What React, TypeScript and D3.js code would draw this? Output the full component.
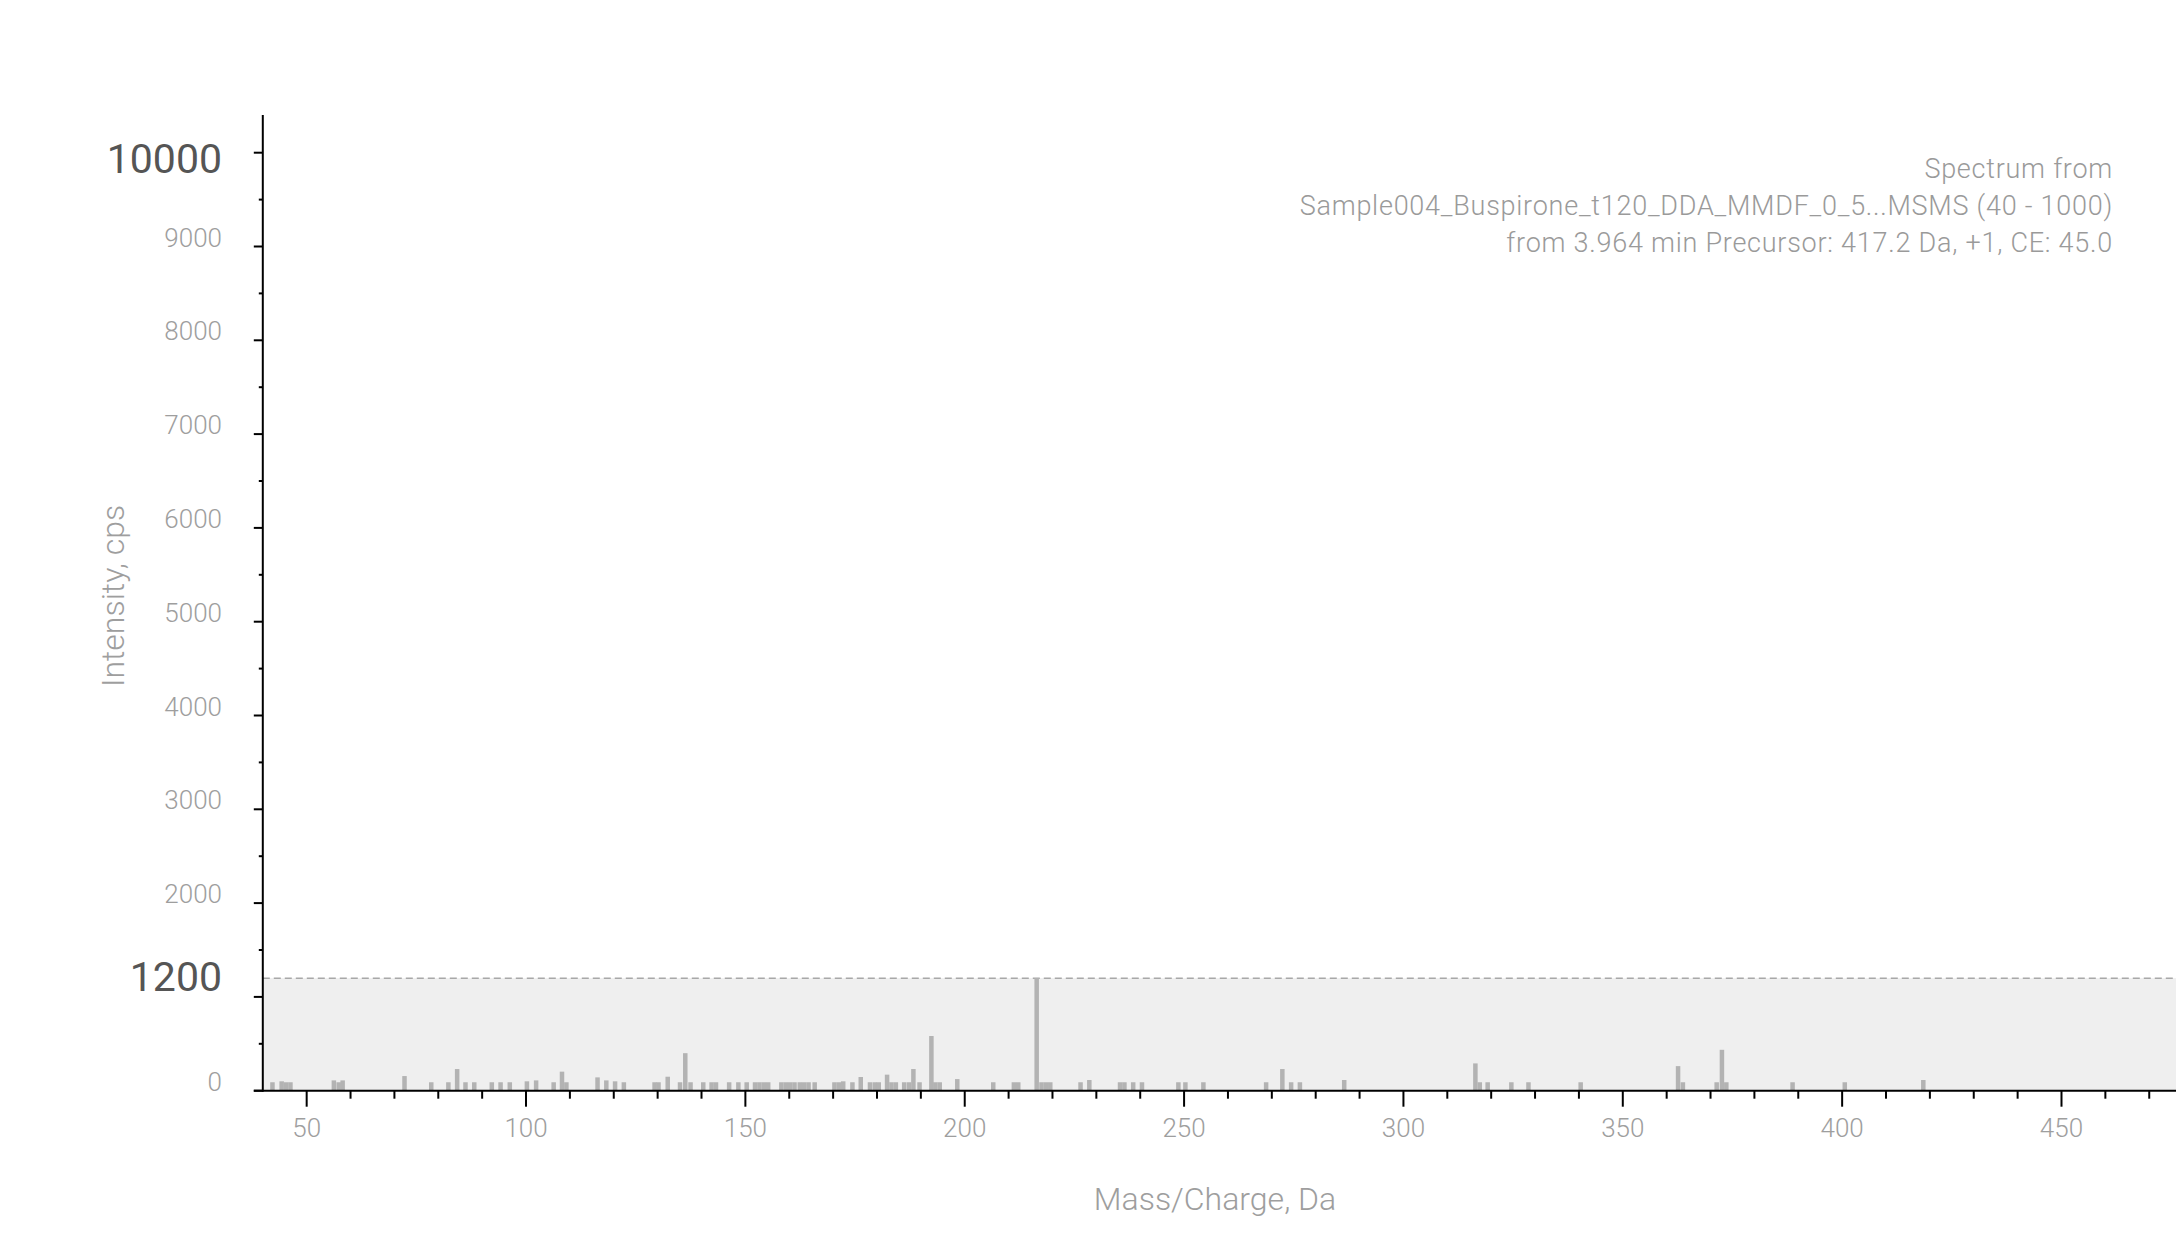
import React from "react";
import * as d3 from "d3";

// ---- data ----
const mzValues = [
  42.2, 44.3, 45.3, 46.3, 56.2, 57.3, 58.2, 72.3, 78.4, 82.3, 84.3, 86.2, 88.2,
  92.2, 94.2, 96.3, 100.2, 102.3, 106.3, 108.2, 109.2, 116.3, 118.3, 120.3,
  122.3, 129.3, 130.2, 132.3, 135.1, 136.3, 137.5, 140.4, 142.3, 143.3, 146.3,
  148.4, 150.3, 152.2, 153.2, 154.2, 155.2, 158.2, 159.2, 160.2, 161.2, 162.4,
  163.4, 164.4, 165.8, 170.3, 171.3, 172.3, 174.4, 176.3, 178.4, 179.5, 180.4,
  182.3, 183.3, 184.3, 186.2, 187.3, 188.3, 189.7, 192.4, 193.3, 194.3, 198.3,
  206.5, 211.2, 212.2, 216.4, 217.5, 218.5, 219.5, 226.4, 228.4, 235.4, 236.4,
  238.4, 240.4, 248.7, 250.3, 254.4, 268.7, 272.4, 274.4, 276.4, 286.5, 316.4,
  317.4, 319.2, 324.6, 328.5, 340.4, 362.6, 363.7, 371.4, 372.6, 373.6, 388.7,
  400.6, 418.5,
];
const intensities = [
  90, 100, 90, 90, 110, 90, 110, 156, 90, 90, 231, 90, 90,
  90, 90, 90, 100, 110, 90, 203, 90, 142, 110, 100,
  90, 90, 90, 149, 90, 400, 90, 90, 90, 90, 90,
  90, 90, 90, 90, 90, 90, 90, 90, 90, 90, 90,
  90, 90, 90, 90, 90, 100, 90, 146, 90, 90, 90,
  171, 90, 90, 90, 90, 231, 90, 583, 90, 90, 124,
  90, 90, 90, 1200, 90, 90, 90, 90, 114, 90, 90,
  90, 90, 90, 90, 90, 90, 231, 90, 90, 114, 291,
  90, 90, 90, 90, 90, 262, 90, 90, 436, 90, 90,
  90, 114,
];
const xTickValues = [50, 100, 150, 200, 250, 300, 350, 400, 450];
const yTickValues = [0, 2000, 3000, 4000, 5000, 6000, 7000, 8000, 9000];
const axisMax = 10000;
const maxIntensity = 1200;
const annotationLines = [
  "Spectrum from",
  "Sample004_Buspirone_t120_DDA_MMDF_0_5...MSMS (40 - 1000)",
  "from 3.964 min Precursor: 417.2 Da, +1, CE: 45.0",
];
const xTitle = "Mass/Charge, Da";
const yTitle = "Intensity, cps";

const FONT = "Roboto, 'Noto Sans', 'DejaVu Sans', sans-serif";

export default function App() {
  const W = 2176;
  const H = 1240;
  const x = d3.scaleLinear().domain([40, 476.1]).range([262.8, 2176]);
  const y = d3.scaleLinear().domain([0, axisMax]).range([1090.7, 152.7]);
  const x0 = x(40);
  const y0 = y(0);
  const yTopPx = 115;

  const xMinor = d3.range(50, 480, 10).filter((v) => v % 50 !== 0);
  const yMinor = d3.range(500, axisMax, 1000);
  const yMajor = d3.range(0, axisMax + 1, 1000);

  const data = mzValues.map((m, i) => ({ mz: m, v: intensities[i] }));
  const barW = 4.5;

  return (
    <svg
      width={W}
      height={H}
      style={{ position: "absolute", left: 0, top: 0, display: "block", background: "#fff" }}
      fontFamily={FONT}
    >
      {/* max-intensity band */}
      <rect x={x0} y={y(maxIntensity)} width={W - x0} height={y0 - y(maxIntensity)} fill="#efefef" />
      <line
        x1={x0}
        x2={W}
        y1={y(maxIntensity)}
        y2={y(maxIntensity)}
        stroke="#a8a8a8"
        strokeWidth={1.5}
        strokeDasharray="7,4"
      />

      {/* bars */}
      {data.map((d, i) => (
        <rect
          key={i}
          x={x(d.mz) - barW / 2}
          y={y(d.v)}
          width={barW}
          height={y0 - y(d.v)}
          fill="#b3b3b3"
        />
      ))}

      {/* y axis */}
      <line x1={x0} x2={x0} y1={yTopPx} y2={y0 + 1} stroke="#000" strokeWidth={2} />
      {yMajor.map((t) => (
        <line key={"ym" + t} x1={x0 - 9} x2={x0} y1={y(t)} y2={y(t)} stroke="#000" strokeWidth={2} />
      ))}
      {yMinor.map((t) => (
        <line key={"yn" + t} x1={x0 - 4} x2={x0} y1={y(t)} y2={y(t)} stroke="#000" strokeWidth={2} />
      ))}
      {yTickValues.map((t) => (
        <text
          key={"yl" + t}
          x={222}
          y={y(t)}
          textAnchor="end"
          fontSize={26}
          fontWeight={300}
          fill="#9e9e9e"
        >
          {t}
        </text>
      ))}
      <text x={222} y={y(axisMax) + 20} textAnchor="end" fontSize={41} fontWeight={400} fill="#555">
        {axisMax}
      </text>
      <text x={222} y={y(maxIntensity) + 12.5} textAnchor="end" fontSize={41} fontWeight={400} fill="#555">
        {maxIntensity}
      </text>

      {/* x axis */}
      <line x1={x0 - 9} x2={W} y1={y0} y2={y0} stroke="#000" strokeWidth={2} />
      {xTickValues.map((t) => (
        <line key={"xm" + t} x1={x(t)} x2={x(t)} y1={y0} y2={y0 + 16} stroke="#000" strokeWidth={2} />
      ))}
      {xMinor.map((t) => (
        <line key={"xn" + t} x1={x(t)} x2={x(t)} y1={y0} y2={y0 + 8} stroke="#000" strokeWidth={2} />
      ))}
      {xTickValues.map((t) => (
        <text
          key={"xl" + t}
          x={x(t)}
          y={y0 + 46}
          textAnchor="middle"
          fontSize={26}
          fontWeight={300}
          fill="#9e9e9e"
        >
          {t}
        </text>
      ))}

      {/* axis titles */}
      <text x={1215} y={1210} textAnchor="middle" fontSize={32} fontWeight={300} fill="#9e9e9e">
        {xTitle}
      </text>
      <text
        transform={`translate(124, 596) rotate(-90)`}
        textAnchor="middle"
        fontSize={32}
        fontWeight={300}
        fill="#9e9e9e"
      >
        {yTitle}
      </text>

      {/* annotation */}
      {annotationLines.map((s, i) => (
        <text
          key={"an" + i}
          x={2113}
          y={178 + i * 37}
          textAnchor="end"
          fontSize={27}
          fontWeight={300}
          letterSpacing={0.75}
          fill="#9a9a9a"
        >
          {s}
        </text>
      ))}
    </svg>
  );
}
